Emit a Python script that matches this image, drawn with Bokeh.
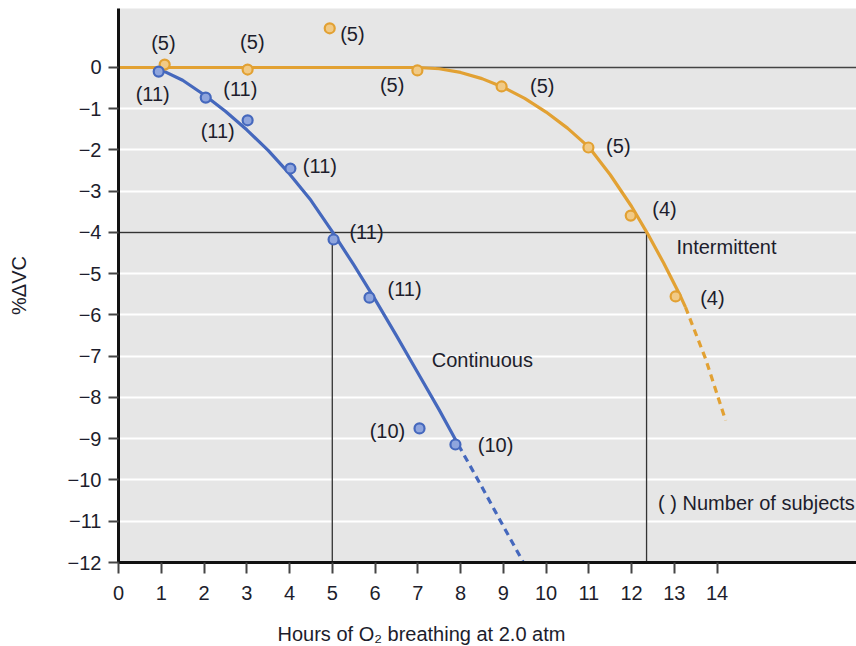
from bokeh.plotting import figure
from bokeh.models import Range1d, FixedTicker, CustomJSTickFormatter, LinearAxis, Title
from bokeh.core.properties import value
from bokeh.embed import file_html
from bokeh.resources import INLINE

# ---------------- data ----------------
cont_hours = [0.94, 2.04, 3.02, 4.02, 5.03, 5.87, 7.04, 7.88]
cont_dvc = [-0.10, -0.73, -1.28, -2.45, -4.17, -5.58, -8.75, -9.14]
cont_n = [11, 11, 11, 11, 11, 11, 10, 10]
cont_label_x = [0.80, 2.85, 2.32, 4.71, 5.80, 6.69, 6.29, 8.82]
cont_label_y = [-0.65, -0.51, -1.53, -2.38, -3.98, -5.38, -8.82, -9.14]

int_hours = [1.08, 3.02, 4.94, 6.99, 8.96, 10.99, 11.98, 13.03]
int_dvc = [0.07, -0.05, 0.95, -0.07, -0.46, -1.94, -3.59, -5.55]
int_n = [5, 5, 5, 5, 5, 5, 4, 4]
int_label_x = [1.05, 3.13, 5.47, 6.40, 9.91, 11.69, 12.77, 13.89]
int_label_y = [0.59, 0.61, 0.82, -0.43, -0.44, -1.91, -3.42, -5.58]

# fitted curves
cont_fit_x = [1.02, 1.5, 2.0, 2.5, 3.0, 3.5, 4.0, 4.5, 5.0, 5.5, 6.0, 6.5, 7.0, 7.5, 7.95]
cont_fit_y = [-0.07, -0.31, -0.66, -1.06, -1.51, -2.01, -2.58, -3.22, -3.98, -4.78, -5.62,
              -6.50, -7.40, -8.30, -9.15]
cont_ext_x = [7.95, 8.5, 9.0, 9.47]
cont_ext_y = [-9.15, -10.17, -11.12, -12.0]

int_fit_x = [0.0, 7.0, 7.5, 8.0, 8.5, 9.0, 9.5, 10.0, 10.5, 11.0, 11.5, 12.0, 12.37,
             12.75, 13.15, 13.26]
int_fit_y = [0.0, 0.0, -0.03, -0.12, -0.27, -0.48, -0.75, -1.08, -1.47, -1.93, -2.60,
             -3.37, -4.02, -4.74, -5.56, -5.81]
int_ext_x = [13.26, 13.73, 14.2]
int_ext_y = [-5.81, -7.06, -8.56]

threshold_dvc = -4
cont_threshold_h = 5.0
int_threshold_h = 12.35

x_ticks = list(range(0, 15))
y_ticks = list(range(-12, 1))
grid_ticks = list(range(-11, 0))

x_title = "Hours of O\u2082 breathing at 2.0 atm"
y_title = "%\u0394VC"

X_END = 17.26
Y_TOP = 1.43
BLUE = "#4568bd"
BLUE_FILL = "#8fa5dd"
ORANGE = "#e2a133"
ORANGE_FILL = "#f1ca86"
TEXT = "#1d1d2c"
FONT = "Liberation Sans"
FS = "20px"

p = figure(width=856, height=646, output_backend="svg", toolbar_location=None,
           x_range=Range1d(0, X_END), y_range=Range1d(-12, Y_TOP),
           min_border_left=118, min_border_right=0, min_border_top=8,
           min_border_bottom=84)
p.background_fill_color = "#e6e6e6"
p.border_fill_color = "white"
p.outline_line_color = None

# grid
p.xgrid.visible = False
p.ygrid.ticker = FixedTicker(ticks=grid_ticks)
p.ygrid.grid_line_color = "white"
p.ygrid.grid_line_width = 2

fmt = CustomJSTickFormatter(code="return tick < 0 ? '\\u2212' + Math.abs(tick) : String(tick);")

for ax in (p.xaxis[0], p.yaxis[0]):
    ax.axis_line_color = "#111111"
    ax.axis_line_width = 3
    ax.major_tick_line_color = "#444444"
    ax.major_tick_line_width = 2
    ax.major_tick_in = 0
    ax.minor_tick_line_color = None
    ax.major_label_text_font = FONT
    ax.major_label_text_font_size = FS
    ax.major_label_text_color = TEXT
    ax.formatter = fmt

p.xaxis.ticker = FixedTicker(ticks=x_ticks)
p.xaxis.major_tick_out = 11
p.xaxis.major_label_standoff = 12

p.yaxis.ticker = FixedTicker(ticks=y_ticks)
p.yaxis.major_tick_out = 10
p.yaxis.major_label_standoff = 7

# y title on an otherwise empty axis left of the tick labels
y_title_axis = LinearAxis(ticker=FixedTicker(ticks=[]), axis_label=y_title,
                          axis_line_color=None, major_tick_line_color=None,
                          minor_tick_line_color=None, major_tick_out=0, major_tick_in=0,
                          major_label_standoff=0, axis_label_standoff=35,
                          axis_label_text_font=FONT, axis_label_text_font_size=FS,
                          axis_label_text_font_style="normal", axis_label_text_color=TEXT)
p.add_layout(y_title_axis, "left")

# x title: an invisible spacer axis, then a left-aligned title shifted under the 0-14 span
spacer = LinearAxis(ticker=FixedTicker(ticks=[0]), axis_line_color=None,
                    major_tick_line_color=None, minor_tick_line_color=None,
                    major_tick_out=18, major_tick_in=0, major_label_standoff=0,
                    major_label_text_font_size="1px",
                    formatter=CustomJSTickFormatter(code="return '';"))
p.add_layout(spacer, "below")
p.add_layout(Title(text=x_title, align="left", offset=159, standoff=0,
                   vertical_align="bottom", text_font=FONT, text_font_size=FS,
                   text_font_style="normal", text_color=TEXT), "below")

# reference lines
p.line([0, X_END], [0, 0], line_color="#444444", line_width=1.3)
p.line([0, int_threshold_h], [threshold_dvc, threshold_dvc], line_color="#333333", line_width=1.3)
p.line([cont_threshold_h, cont_threshold_h], [threshold_dvc, -12], line_color="#333333", line_width=1.3)
p.line([int_threshold_h, int_threshold_h], [threshold_dvc, -12], line_color="#333333", line_width=1.3)

# curves
p.line(int_fit_x, int_fit_y, line_color=ORANGE, line_width=3.2, line_join="round")
p.line(int_ext_x, int_ext_y, line_color=ORANGE, line_width=3.2, line_dash="7 5")
p.line(cont_fit_x, cont_fit_y, line_color=BLUE, line_width=3.2, line_join="round")
p.line(cont_ext_x, cont_ext_y, line_color=BLUE, line_width=3.2, line_dash="7 5")

# points
p.scatter(int_hours, int_dvc, marker="circle", size=10, fill_color=ORANGE_FILL,
          line_color=ORANGE, line_width=2.2)
p.scatter(cont_hours, cont_dvc, marker="circle", size=10, fill_color=BLUE_FILL,
          line_color=BLUE, line_width=2.2)

# labels
common = dict(text_font=value(FONT), text_font_size=value(FS), text_color=TEXT,
              text_baseline="middle")
p.text(x=cont_label_x, y=cont_label_y, text=[f"({n})" for n in cont_n],
       text_align="center", **common)
p.text(x=int_label_x, y=int_label_y, text=[f"({n})" for n in int_n],
       text_align="center", **common)
p.text(x=[8.51], y=[-7.08], text=["Continuous"], text_align="center", **common)
p.text(x=[14.22], y=[-4.36], text=["Intermittent"], text_align="center", **common)
p.text(x=[12.62], y=[-10.55], text=["( ) Number of subjects"], text_align="left", **common)

open("out.html", "w").write(file_html(p, INLINE))
